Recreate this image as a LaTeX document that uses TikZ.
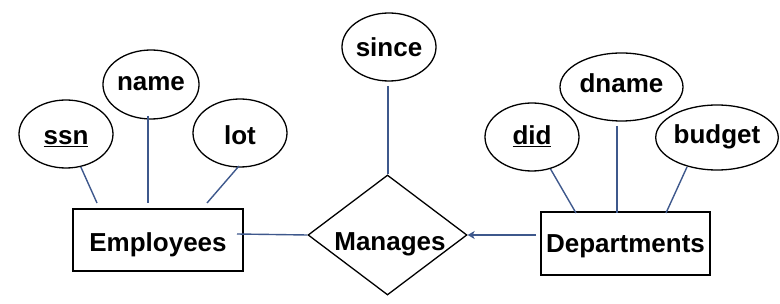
\documentclass[tikz,border=0pt]{standalone}
\usepackage{fontspec}
\setmainfont{Liberation Sans}
\usetikzlibrary{shapes.geometric,arrows.meta}
\definecolor{linkblue}{RGB}{62,88,140}
\tikzset{
  x=1pt, y=-1pt,
  every node/.style={font=\fontsize{26}{30}\selectfont\bfseries},
  attr/.style={draw=black, line width=1.3pt, ellipse, inner sep=0pt, text depth=0pt},
  entity/.style={draw=black, line width=1.3pt, rectangle, inner sep=0pt, text depth=0pt},
  rel/.style={draw=black, line width=1.3pt, diamond, inner sep=0pt, minimum width=159pt, minimum height=120pt},
  conn/.style={draw=linkblue, line width=1.4pt},
}
\begin{document}
\begin{tikzpicture}
\useasboundingbox (0,0) rectangle (780,304);
% entities
\node[entity, minimum width=170pt, minimum height=62pt, text height=23pt] (emp) at (158,240) {Employees};
\node[entity, minimum width=169pt, minimum height=63pt, text height=19pt] (dep) at (625.5,243.5) {Departments};
% relationship
\node[rel] (man) at (387.5,235) {};
\node[anchor=base] (mantext) at (390,251) {Manages};
% attributes
\node[attr, minimum width=94pt, minimum height=68pt, text height=21pt] (ssn) at (66,134) {\underline{ssn}};
\node[attr, minimum width=94pt, minimum height=69pt, text height=13pt] (name) at (151,84.5) {name};
\node[attr, minimum width=94pt, minimum height=68pt, text height=23pt] (lot) at (240,133) {lot};
\node[attr, minimum width=94pt, minimum height=68pt, text height=20pt] (since) at (389,47) {since};
\node[attr, minimum width=94pt, minimum height=68pt, text height=16pt] (did) at (532,137) {\underline{did}};
\node[attr, minimum width=123pt, minimum height=68pt, text height=12pt] (dname) at (621.5,87) {dname};
\node[attr, minimum width=120pt, minimum height=65pt, text height=12pt] (budget) at (717,137.5) {budget};
% connector ends
\coordinate (e1) at (97,203);
\coordinate (e2) at (148,203);
\coordinate (e3) at (207,203);
\coordinate (e3s) at (239,166);
\coordinate (n1) at (148,116);
\coordinate (d1) at (576,213);
\coordinate (d2) at (617,213);
\coordinate (d3) at (666,213);
\coordinate (d3s) at (687,167);
\coordinate (dn1) at (617,126);
\coordinate (s1) at (388,86);
\coordinate (s2) at (388,174);
\coordinate (em1) at (237,234);
\coordinate (dp1) at (536,235);
% connectors
\draw[conn] (ssn) -- (e1);
\draw[conn] (n1) -- (e2);
\draw[conn] (e3s) -- (e3);
\draw[conn] (did) -- (d1);
\draw[conn] (dn1) -- (d2);
\draw[conn] (d3s) -- (d3);
\draw[conn] (s1) -- (s2);
\draw[conn] (em1) -- (man.west);
\draw[conn, -{Stealth[length=7pt, width=8pt, inset=2pt]}] (dp1) -- (man.east);
\end{tikzpicture}
\end{document}
